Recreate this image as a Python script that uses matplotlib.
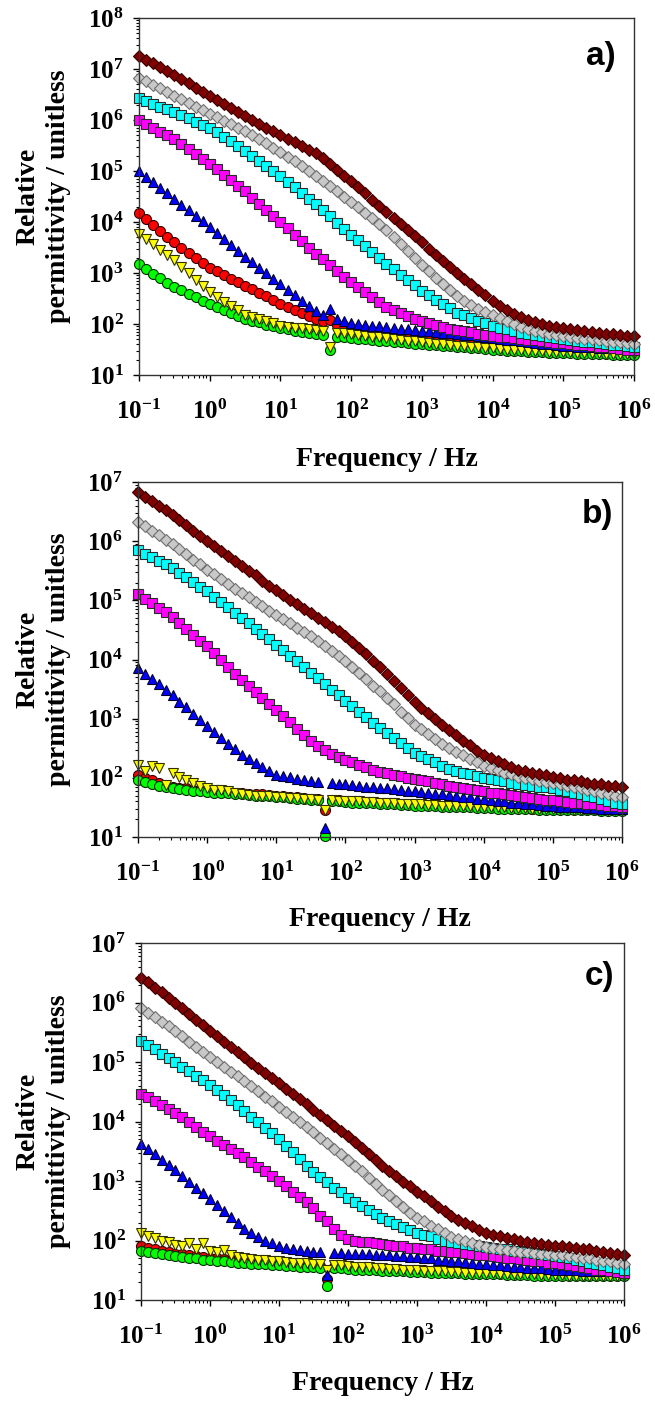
import matplotlib
matplotlib.use("Agg")
import matplotlib.pyplot as plt
import numpy as np
from matplotlib.ticker import LogLocator, NullFormatter

plt.rcParams['font.family'] = ['Liberation Serif', 'DejaVu Serif']
plt.rcParams['mathtext.fontset'] = 'custom'
plt.rcParams['mathtext.rm'] = 'Liberation Serif:bold'
plt.rcParams['mathtext.bf'] = 'Liberation Serif:bold'
plt.rcParams['mathtext.it'] = 'Liberation Serif:bold'
plt.rcParams['mathtext.default'] = 'rm'

# measurement frequencies (Hz), 10 per decade
freq_hz = [0.1, 0.1259, 0.1585, 0.1995, 0.2512, 0.3162, 0.3981, 0.5012, 0.631, 0.7943,
           1.0, 1.259, 1.585, 1.995, 2.512, 3.162, 3.981, 5.012, 6.31, 7.943,
           10.0, 12.59, 15.85, 19.95, 25.12, 31.62, 39.81, 50.12, 63.1, 79.43,
           100.0, 125.9, 158.5, 199.5, 251.2, 316.2, 398.1, 501.2, 631.0, 794.3,
           1000.0, 1259, 1585, 1995, 2512, 3162, 3981, 5012, 6310, 7943,
           1e4, 12590, 15850, 19950, 25120, 31620, 39810, 50120, 63100, 79430,
           1e5, 125900, 158500, 199500, 251200, 316200, 398100, 501200, 631000, 794300,
           1e6]

# log10(relative permittivity)
# ---- panel a ----
a_maroon = [7.26, 7.18, 7.11, 7.03, 6.96, 6.88, 6.80, 6.72, 6.63, 6.55,
            6.47, 6.39, 6.31, 6.24, 6.16, 6.08, 6.00, 5.93, 5.85, 5.78,
            5.70, 5.63, 5.56, 5.49, 5.42, 5.35, 5.25, 5.13, 5.02, 4.91,
            4.80, 4.68, 4.56, 4.44, 4.32, 4.20, 4.08, 3.96, 3.84, 3.72,
            3.60, 3.48, 3.36, 3.24, 3.12, 3.00, 2.89, 2.78, 2.67, 2.56,
            2.45, 2.36, 2.28, 2.20, 2.14, 2.08, 2.04, 2.00, 1.97, 1.94,
            1.92, 1.90, 1.88, 1.86, 1.84, 1.83, 1.81, 1.80, 1.78, 1.77, 1.76]
a_gray = [6.83, 6.76, 6.69, 6.62, 6.55, 6.48, 6.41, 6.34, 6.26, 6.19,
          6.12, 6.05, 5.98, 5.92, 5.85, 5.78, 5.70, 5.62, 5.54, 5.46,
          5.38, 5.28, 5.19, 5.09, 5.00, 4.90, 4.80, 4.70, 4.60, 4.50,
          4.40, 4.29, 4.18, 4.07, 3.96, 3.85, 3.71, 3.57, 3.43, 3.29,
          3.15, 3.03, 2.90, 2.78, 2.66, 2.55, 2.46, 2.38, 2.30, 2.23,
          2.17, 2.11, 2.05, 2.00, 1.95, 1.90, 1.87, 1.84, 1.81, 1.79,
          1.77, 1.75, 1.73, 1.71, 1.70, 1.68, 1.67, 1.65, 1.64, 1.62, 1.61]
a_cyan = [6.43, 6.37, 6.32, 6.26, 6.21, 6.15, 6.09, 6.03, 5.97, 5.91,
          5.85, 5.76, 5.67, 5.58, 5.49, 5.40, 5.30, 5.20, 5.10, 5.00,
          4.90, 4.79, 4.68, 4.57, 4.46, 4.35, 4.23, 4.11, 3.99, 3.87,
          3.75, 3.64, 3.52, 3.41, 3.29, 3.18, 3.07, 2.97, 2.86, 2.76,
          2.65, 2.56, 2.48, 2.39, 2.31, 2.22, 2.17, 2.12, 2.06, 2.01,
          1.96, 1.93, 1.90, 1.86, 1.83, 1.80, 1.78, 1.76, 1.74, 1.72,
          1.70, 1.68, 1.67, 1.65, 1.64, 1.62, 1.61, 1.59, 1.58, 1.56, 1.55]
a_magenta = [6.00, 5.92, 5.85, 5.77, 5.70, 5.62, 5.52, 5.43, 5.33, 5.24,
             5.14, 5.03, 4.92, 4.82, 4.71, 4.60, 4.48, 4.36, 4.24, 4.12,
             4.00, 3.88, 3.75, 3.63, 3.50, 3.38, 3.27, 3.16, 3.04, 2.93,
             2.82, 2.72, 2.62, 2.53, 2.43, 2.34, 2.28, 2.22, 2.16, 2.10,
             2.05, 2.02, 1.98, 1.95, 1.91, 1.88, 1.86, 1.84, 1.81, 1.79,
             1.77, 1.75, 1.74, 1.72, 1.71, 1.69, 1.68, 1.66, 1.65, 1.63,
             1.62, 1.61, 1.59, 1.58, 1.56, 1.55, 1.54, 1.53, 1.51, 1.50, 1.49]
a_blue = [5.00, 4.89, 4.78, 4.67, 4.56, 4.45, 4.34, 4.23, 4.12, 4.01,
          3.90, 3.78, 3.67, 3.55, 3.44, 3.32, 3.21, 3.10, 3.00, 2.89,
          2.78, 2.67, 2.57, 2.46, 2.36, 2.25, 2.17, 2.30, 2.09, 2.05,
          2.02, 2.00, 1.99, 1.97, 1.96, 1.94, 1.93, 1.91, 1.90, 1.88,
          1.87, 1.86, 1.85, 1.83, 1.82, 1.81, 1.79, 1.78, 1.76, 1.75,
          1.73, 1.71, 1.69, 1.68, 1.66, 1.64, 1.63, 1.61, 1.60, 1.58,
          1.57, 1.56, 1.55, 1.55, 1.54, 1.53, 1.52, 1.52, 1.51, 1.51, 1.50]
a_red = [4.17, 4.06, 3.94, 3.83, 3.71, 3.60, 3.50, 3.40, 3.30, 3.20,
         3.10, 3.03, 2.96, 2.89, 2.82, 2.75, 2.68, 2.61, 2.54, 2.47,
         2.40, 2.34, 2.28, 2.22, 2.16, 2.10, 2.06, 2.08, 1.99, 1.96,
         1.92, 1.90, 1.88, 1.86, 1.84, 1.82, 1.81, 1.80, 1.78, 1.77,
         1.76, 1.75, 1.74, 1.73, 1.72, 1.71, 1.70, 1.69, 1.68, 1.67,
         1.66, 1.65, 1.64, 1.62, 1.61, 1.60, 1.59, 1.58, 1.57, 1.56,
         1.55, 1.54, 1.53, 1.52, 1.51, 1.50, 1.49, 1.49, 1.48, 1.48, 1.47]
a_yellow = [3.76, 3.66, 3.56, 3.45, 3.35, 3.25, 3.12, 3.00, 2.87, 2.75,
            2.62, 2.53, 2.44, 2.36, 2.27, 2.18, 2.14, 2.10, 2.05, 2.01,
            1.97, 1.95, 1.93, 1.92, 1.90, 1.88, 1.86, 1.55, 1.83, 1.82,
            1.80, 1.78, 1.77, 1.75, 1.74, 1.72, 1.70, 1.69, 1.67, 1.66,
            1.64, 1.63, 1.61, 1.60, 1.58, 1.57, 1.56, 1.55, 1.54, 1.53,
            1.52, 1.51, 1.50, 1.50, 1.49, 1.48, 1.47, 1.47, 1.46, 1.46,
            1.45, 1.45, 1.44, 1.44, 1.43, 1.43, 1.42, 1.42, 1.41, 1.41, 1.41]
a_green = [3.17, 3.08, 2.99, 2.90, 2.81, 2.72, 2.66, 2.59, 2.53, 2.46,
           2.40, 2.34, 2.28, 2.22, 2.16, 2.10, 2.06, 2.03, 1.99, 1.96,
           1.92, 1.90, 1.87, 1.85, 1.82, 1.80, 1.78, 1.50, 1.75, 1.74,
           1.72, 1.71, 1.70, 1.68, 1.67, 1.66, 1.65, 1.64, 1.62, 1.61,
           1.60, 1.59, 1.58, 1.57, 1.56, 1.55, 1.54, 1.53, 1.52, 1.51,
           1.50, 1.49, 1.48, 1.48, 1.47, 1.46, 1.45, 1.45, 1.44, 1.44,
           1.43, 1.43, 1.42, 1.42, 1.41, 1.41, 1.41, 1.40, 1.40, 1.40, 1.40]

# ---- panel b ----
b_maroon = [6.83, 6.75, 6.68, 6.60, 6.53, 6.45, 6.36, 6.27, 6.18, 6.09,
            6.00, 5.92, 5.83, 5.75, 5.66, 5.58, 5.50, 5.42, 5.33, 5.25,
            5.17, 5.09, 5.01, 4.94, 4.86, 4.78, 4.70, 4.63, 4.55, 4.48,
            4.40, 4.30, 4.19, 4.09, 3.98, 3.88, 3.76, 3.64, 3.52, 3.40,
            3.28, 3.18, 3.09, 2.99, 2.90, 2.80, 2.72, 2.63, 2.55, 2.46,
            2.38, 2.33, 2.28, 2.23, 2.19, 2.14, 2.11, 2.09, 2.06, 2.04,
            2.01, 1.99, 1.97, 1.96, 1.94, 1.92, 1.90, 1.89, 1.87, 1.86, 1.84]
b_gray = [6.32, 6.25, 6.17, 6.10, 6.02, 5.95, 5.86, 5.78, 5.69, 5.61,
          5.52, 5.44, 5.36, 5.28, 5.20, 5.12, 5.05, 4.97, 4.90, 4.82,
          4.75, 4.68, 4.61, 4.54, 4.47, 4.40, 4.32, 4.23, 4.15, 4.06,
          3.98, 3.88, 3.77, 3.67, 3.56, 3.46, 3.35, 3.24, 3.12, 3.01,
          2.90, 2.82, 2.74, 2.66, 2.58, 2.50, 2.44, 2.38, 2.32, 2.26,
          2.20, 2.16, 2.13, 2.09, 2.06, 2.02, 2.00, 1.98, 1.95, 1.93,
          1.91, 1.89, 1.87, 1.84, 1.82, 1.80, 1.78, 1.75, 1.73, 1.70, 1.68]
b_cyan = [5.85, 5.79, 5.73, 5.67, 5.61, 5.55, 5.47, 5.39, 5.31, 5.23,
          5.15, 5.06, 4.97, 4.88, 4.79, 4.70, 4.61, 4.52, 4.43, 4.34,
          4.25, 4.16, 4.06, 3.97, 3.87, 3.78, 3.68, 3.59, 3.49, 3.40,
          3.30, 3.21, 3.12, 3.02, 2.93, 2.84, 2.76, 2.67, 2.59, 2.50,
          2.42, 2.37, 2.31, 2.26, 2.20, 2.15, 2.12, 2.09, 2.06, 2.03,
          2.00, 1.98, 1.96, 1.94, 1.92, 1.90, 1.88, 1.87, 1.85, 1.84,
          1.82, 1.80, 1.77, 1.75, 1.72, 1.70, 1.67, 1.64, 1.61, 1.58, 1.55]
b_magenta = [5.10, 5.02, 4.95, 4.87, 4.80, 4.72, 4.62, 4.52, 4.42, 4.32,
             4.22, 4.11, 3.99, 3.88, 3.76, 3.65, 3.55, 3.45, 3.35, 3.25,
             3.15, 3.04, 2.94, 2.83, 2.73, 2.62, 2.54, 2.47, 2.40, 2.35,
             2.30, 2.26, 2.22, 2.18, 2.14, 2.10, 2.08, 2.05, 2.03, 2.00,
             1.98, 1.96, 1.94, 1.91, 1.89, 1.87, 1.85, 1.83, 1.81, 1.79,
             1.77, 1.75, 1.74, 1.72, 1.71, 1.69, 1.68, 1.66, 1.65, 1.63,
             1.62, 1.61, 1.59, 1.58, 1.57, 1.56, 1.55, 1.54, 1.53, 1.52, 1.51]
b_blue = [3.85, 3.76, 3.67, 3.58, 3.49, 3.40, 3.29, 3.19, 3.08, 2.98,
          2.87, 2.77, 2.67, 2.58, 2.48, 2.38, 2.31, 2.25, 2.18, 2.12,
          2.05, 2.03, 2.01, 1.98, 1.96, 1.94, 1.93, 1.15, 1.91, 1.90,
          1.89, 1.88, 1.87, 1.85, 1.84, 1.83, 1.82, 1.81, 1.79, 1.78,
          1.77, 1.76, 1.75, 1.73, 1.72, 1.71, 1.70, 1.68, 1.67, 1.65,
          1.64, 1.63, 1.61, 1.60, 1.58, 1.57, 1.56, 1.55, 1.54, 1.53,
          1.52, 1.51, 1.51, 1.50, 1.50, 1.49, 1.49, 1.48, 1.48, 1.47, 1.47]
b_red = [2.04, 2.00, 1.96, 1.92, 1.88, 1.85, 1.83, 1.82, 1.80, 1.79,
         1.78, 1.77, 1.76, 1.76, 1.75, 1.74, 1.73, 1.72, 1.72, 1.71,
         1.70, 1.69, 1.68, 1.67, 1.66, 1.65, 1.64, 1.45, 1.62, 1.62,
         1.61, 1.60, 1.60, 1.59, 1.59, 1.58, 1.57, 1.57, 1.56, 1.56,
         1.55, 1.55, 1.54, 1.54, 1.53, 1.53, 1.53, 1.52, 1.52, 1.51,
         1.51, 1.51, 1.50, 1.50, 1.49, 1.49, 1.49, 1.48, 1.48, 1.48,
         1.48, 1.48, 1.47, 1.47, 1.47, 1.47, 1.47, 1.46, 1.46, 1.46, 1.46]
b_yellow = [2.21, 2.12, 2.20, 2.17, 1.88, 2.08, 2.02, 1.96, 1.92, 1.86,
            1.82, 1.80, 1.79, 1.77, 1.75, 1.72, 1.71, 1.70, 1.69, 1.69,
            1.68, 1.67, 1.66, 1.66, 1.65, 1.64, 1.63, 1.45, 1.62, 1.61,
            1.61, 1.60, 1.60, 1.59, 1.59, 1.58, 1.57, 1.57, 1.56, 1.56,
            1.55, 1.55, 1.54, 1.54, 1.53, 1.53, 1.53, 1.52, 1.52, 1.51,
            1.51, 1.51, 1.50, 1.50, 1.49, 1.49, 1.49, 1.48, 1.48, 1.48,
            1.47, 1.47, 1.47, 1.46, 1.46, 1.46, 1.46, 1.45, 1.45, 1.45, 1.45]
b_green = [1.96, 1.93, 1.90, 1.87, 1.85, 1.82, 1.81, 1.80, 1.78, 1.77,
           1.76, 1.75, 1.74, 1.74, 1.73, 1.72, 1.71, 1.70, 1.70, 1.69,
           1.68, 1.67, 1.66, 1.65, 1.64, 1.63, 1.62, 1.01, 1.61, 1.60,
           1.59, 1.58, 1.58, 1.57, 1.57, 1.56, 1.55, 1.55, 1.54, 1.54,
           1.53, 1.53, 1.52, 1.52, 1.51, 1.51, 1.51, 1.50, 1.50, 1.49,
           1.49, 1.49, 1.48, 1.48, 1.47, 1.47, 1.47, 1.47, 1.46, 1.46,
           1.46, 1.46, 1.45, 1.45, 1.45, 1.45, 1.45, 1.44, 1.44, 1.44, 1.44]

# ---- panel c ----
c_maroon = [6.42, 6.34, 6.25, 6.17, 6.08, 6.00, 5.90, 5.81, 5.71, 5.62,
            5.52, 5.43, 5.34, 5.26, 5.17, 5.08, 4.99, 4.90, 4.82, 4.73,
            4.64, 4.55, 4.46, 4.38, 4.29, 4.20, 4.11, 4.02, 3.93, 3.84,
            3.75, 3.65, 3.55, 3.45, 3.35, 3.25, 3.16, 3.08, 2.99, 2.91,
            2.82, 2.74, 2.66, 2.57, 2.49, 2.41, 2.35, 2.29, 2.24, 2.18,
            2.12, 2.09, 2.07, 2.04, 2.02, 1.99, 1.97, 1.96, 1.94, 1.93,
            1.91, 1.90, 1.89, 1.87, 1.86, 1.85, 1.83, 1.81, 1.79, 1.77, 1.75]
c_gray = [5.90, 5.82, 5.75, 5.67, 5.60, 5.52, 5.43, 5.34, 5.26, 5.17,
          5.08, 5.00, 4.92, 4.84, 4.76, 4.68, 4.59, 4.51, 4.42, 4.34,
          4.25, 4.16, 4.08, 3.99, 3.91, 3.82, 3.73, 3.64, 3.54, 3.45,
          3.36, 3.26, 3.16, 3.05, 2.95, 2.85, 2.76, 2.66, 2.57, 2.47,
          2.38, 2.32, 2.25, 2.19, 2.12, 2.06, 2.03, 1.99, 1.96, 1.92,
          1.89, 1.87, 1.86, 1.84, 1.83, 1.81, 1.80, 1.79, 1.78, 1.77,
          1.76, 1.75, 1.74, 1.72, 1.71, 1.70, 1.68, 1.66, 1.65, 1.63, 1.61]
c_cyan = [5.36, 5.29, 5.22, 5.14, 5.07, 5.00, 4.92, 4.85, 4.77, 4.70,
          4.62, 4.53, 4.44, 4.36, 4.27, 4.18, 4.08, 3.99, 3.89, 3.80,
          3.70, 3.59, 3.48, 3.37, 3.26, 3.15, 3.06, 2.98, 2.89, 2.81,
          2.72, 2.65, 2.58, 2.51, 2.44, 2.37, 2.32, 2.27, 2.23, 2.18,
          2.13, 2.10, 2.07, 2.03, 2.00, 1.97, 1.95, 1.94, 1.92, 1.91,
          1.89, 1.88, 1.86, 1.85, 1.83, 1.82, 1.80, 1.79, 1.77, 1.76,
          1.74, 1.72, 1.70, 1.67, 1.65, 1.63, 1.60, 1.58, 1.55, 1.53, 1.50]
c_magenta = [4.47, 4.41, 4.34, 4.28, 4.21, 4.15, 4.07, 3.99, 3.91, 3.83,
             3.75, 3.68, 3.61, 3.54, 3.47, 3.40, 3.32, 3.24, 3.16, 3.08,
             3.00, 2.91, 2.82, 2.73, 2.64, 2.55, 2.42, 2.32, 2.20, 2.10,
             2.03, 2.00, 1.98, 1.97, 1.95, 1.94, 1.93, 1.91, 1.90, 1.88,
             1.87, 1.86, 1.85, 1.83, 1.82, 1.81, 1.80, 1.79, 1.77, 1.76,
             1.75, 1.74, 1.73, 1.71, 1.70, 1.69, 1.68, 1.66, 1.65, 1.63,
             1.62, 1.60, 1.58, 1.57, 1.55, 1.53, 1.51, 1.50, 1.48, 1.47, 1.45]
c_blue = [3.63, 3.54, 3.45, 3.36, 3.27, 3.18, 3.08, 2.99, 2.89, 2.80,
          2.70, 2.60, 2.50, 2.40, 2.30, 2.20, 2.13, 2.06, 2.00, 1.95,
          1.90, 1.88, 1.86, 1.84, 1.82, 1.80, 1.80, 1.42, 1.79, 1.79,
          1.78, 1.78, 1.77, 1.77, 1.76, 1.76, 1.75, 1.74, 1.74, 1.73,
          1.72, 1.71, 1.70, 1.68, 1.67, 1.66, 1.65, 1.64, 1.62, 1.61,
          1.60, 1.59, 1.58, 1.57, 1.56, 1.55, 1.54, 1.53, 1.53, 1.52,
          1.51, 1.51, 1.50, 1.50, 1.49, 1.49, 1.49, 1.48, 1.48, 1.48, 1.48]
c_red = [1.90, 1.87, 1.85, 1.82, 1.80, 1.78, 1.77, 1.75, 1.74, 1.72,
         1.71, 1.70, 1.69, 1.68, 1.67, 1.66, 1.65, 1.64, 1.64, 1.63,
         1.62, 1.61, 1.60, 1.60, 1.59, 1.58, 1.57, 1.35, 1.56, 1.56,
         1.55, 1.54, 1.54, 1.53, 1.53, 1.52, 1.52, 1.51, 1.51, 1.50,
         1.50, 1.50, 1.49, 1.49, 1.48, 1.48, 1.48, 1.47, 1.47, 1.46,
         1.46, 1.46, 1.46, 1.45, 1.45, 1.45, 1.45, 1.45, 1.44, 1.44,
         1.44, 1.44, 1.44, 1.43, 1.43, 1.43, 1.43, 1.43, 1.42, 1.42, 1.42]
c_yellow = [2.13, 2.08, 2.04, 2.00, 1.97, 1.93, 1.90, 1.96, 1.86, 1.95,
            1.82, 1.80, 1.84, 1.76, 1.73, 1.71, 1.69, 1.68, 1.67, 1.66,
            1.65, 1.64, 1.63, 1.63, 1.62, 1.61, 1.60, 1.50, 1.59, 1.58,
            1.57, 1.56, 1.55, 1.55, 1.54, 1.53, 1.52, 1.52, 1.51, 1.51,
            1.50, 1.49, 1.49, 1.48, 1.48, 1.47, 1.47, 1.46, 1.46, 1.45,
            1.45, 1.45, 1.44, 1.44, 1.43, 1.43, 1.43, 1.43, 1.42, 1.42,
            1.42, 1.42, 1.41, 1.41, 1.41, 1.41, 1.41, 1.40, 1.40, 1.40, 1.40]
c_green = [1.83, 1.81, 1.79, 1.78, 1.76, 1.74, 1.73, 1.71, 1.70, 1.68,
           1.67, 1.66, 1.65, 1.64, 1.63, 1.62, 1.61, 1.60, 1.60, 1.59,
           1.58, 1.57, 1.57, 1.56, 1.56, 1.55, 1.54, 1.24, 1.53, 1.53,
           1.52, 1.51, 1.51, 1.50, 1.50, 1.49, 1.49, 1.48, 1.48, 1.47,
           1.47, 1.47, 1.46, 1.46, 1.45, 1.45, 1.45, 1.44, 1.44, 1.43,
           1.43, 1.43, 1.43, 1.42, 1.42, 1.42, 1.42, 1.41, 1.41, 1.41,
           1.41, 1.41, 1.41, 1.40, 1.40, 1.40, 1.40, 1.40, 1.40, 1.40, 1.40]

# marker styles per sample
styles = {
    'maroon': dict(marker='D', mfc='#800000', mec='#3a0000', ms=6.0),
    'gray': dict(marker='D', mfc='#C8C8C8', mec='#707070', ms=6.0),
    'cyan': dict(marker='s', mfc='#00FFFF', mec='#2a2a2a', ms=6.6),
    'magenta': dict(marker='s', mfc='#FF00FF', mec='#2a2a2a', ms=6.6),
    'blue': dict(marker='^', mfc='#0000FF', mec='#000030', ms=7.6),
    'red': dict(marker='o', mfc='#FF0000', mec='#300000', ms=7.2),
    'yellow': dict(marker='v', mfc='#FFFF00', mec='#303000', ms=7.4),
    'green': dict(marker='o', mfc='#00FF00', mec='#003000', ms=7.2),
}
draw_order = ['red', 'green', 'yellow', 'blue', 'magenta', 'cyan', 'gray', 'maroon']

panel_a = {'maroon': a_maroon, 'gray': a_gray, 'cyan': a_cyan, 'magenta': a_magenta,
           'blue': a_blue, 'red': a_red, 'yellow': a_yellow, 'green': a_green}
panel_b = {'maroon': b_maroon, 'gray': b_gray, 'cyan': b_cyan, 'magenta': b_magenta,
           'blue': b_blue, 'red': b_red, 'yellow': b_yellow, 'green': b_green}
panel_c = {'maroon': c_maroon, 'gray': c_gray, 'cyan': c_cyan, 'magenta': c_magenta,
           'blue': c_blue, 'red': c_red, 'yellow': c_yellow, 'green': c_green}

W, H = 655, 1401
fig = plt.figure(figsize=(W / 100, H / 100), dpi=100)

# (letter, data, ymax exponent, axes box in px: left, top, right, bottom, letter px pos, xlabel y px)
panels = [
    ('a)', panel_a, 8, (139, 18, 634, 375), (601, 57), 459),
    ('b)', panel_b, 7, (138, 482, 622, 837), (597, 515), 920),
    ('c)', panel_c, 7, (141, 943, 624, 1300), (600, 977), 1384),
]

x_dec = [-1, 0, 1, 2, 3, 4, 5, 6]

for letter, data, ytop, box, lpos, xl_y in panels:
    l, t, r, b = box
    ax = fig.add_axes([l / W, 1 - b / H, (r - l) / W, (b - t) / H])
    for name in draw_order:
        st = styles[name]
        ax.plot(freq_hz, 10 ** np.array(data[name]), linestyle='none',
                marker=st['marker'], markerfacecolor=st['mfc'],
                markeredgecolor=st['mec'], markersize=st['ms'],
                markeredgewidth=0.8, clip_on=False)
    ax.set_xscale('log')
    ax.set_yscale('log')
    ax.set_xlim(0.1, 1e6)
    ax.set_ylim(10, 10 ** ytop)

    ax.set_xticks([10.0 ** e for e in x_dec])
    ax.set_xticklabels([r'$10^{%d}$' % e for e in x_dec])
    y_dec = list(range(1, ytop + 1))
    ax.set_yticks([10.0 ** e for e in y_dec])
    ax.set_yticklabels([r'$10^{%d}$' % e for e in y_dec])
    ax.xaxis.set_minor_locator(LogLocator(base=10, subs=np.arange(2, 10), numticks=20))
    ax.yaxis.set_minor_locator(LogLocator(base=10, subs=np.arange(2, 10), numticks=20))
    ax.xaxis.set_minor_formatter(NullFormatter())
    ax.yaxis.set_minor_formatter(NullFormatter())

    ax.tick_params(which='major', direction='out', length=4, width=1, labelsize=18,
                   colors='black')
    ax.tick_params(which='minor', direction='out', length=2.5, width=0.8)
    ax.tick_params(axis='x', which='major', pad=14)
    ax.tick_params(axis='y', which='major', pad=7)
    for sp in ax.spines.values():
        sp.set_color('#333333')
        sp.set_linewidth(1.0)

    ax.text(lpos[0] / W, 1 - lpos[1] / H, letter, transform=fig.transFigure,
            ha='center', va='center', fontsize=24, fontweight='bold',
            family=['Liberation Sans', 'DejaVu Sans'])
    fig.text((l + r) / 2 / W, 1 - xl_y / H, 'Frequency / Hz', ha='center', va='center',
             fontsize=20, fontweight='bold')
    fig.text(43 / W, 1 - (t + b) / 2 / H, 'Relative\npermittivity / unitless',
             rotation=90, ha='center', va='center', multialignment='center',
             fontsize=20, fontweight='bold', linespacing=1.3)

fig.savefig('out.png', dpi=100)
